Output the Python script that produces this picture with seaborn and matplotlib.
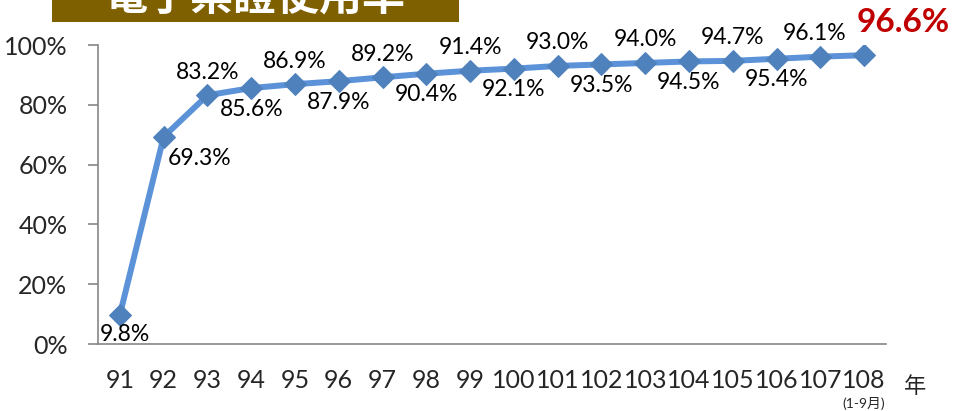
import numpy as np
import pandas as pd
import matplotlib
matplotlib.use("Agg")
import matplotlib.pyplot as plt
import seaborn as sns
from matplotlib.patches import Rectangle

years = ["91", "92", "93", "94", "95", "96", "97", "98", "99",
         "100", "101", "102", "103", "104", "105", "106", "107", "108"]
usage_rate = [9.8, 69.3, 83.2, 85.6, 86.9, 87.9, 89.2, 90.4, 91.4,
              92.1, 93.0, 93.5, 94.0, 94.5, 94.7, 95.4, 96.1, 96.6]
y_ticks = [0, 20, 40, 60, 80, 100]
title_text = "電子票證使用率"

# label offsets in pixels, positive y = above the point
label_offsets = [(5, -20), (36, -22), (0, 23), (0, -21), (0, 23), (0, -21),
                 (0, 23), (0, -21), (0, 23), (0, -21), (0, 23), (0, -21),
                 (0, 23), (0, -21), (0, 23), (0, -21), (-6, 23), (39, 33)]

sns.set_style("white")
plt.rcParams["font.family"] = ["Lato", "Noto Sans CJK TC", "DejaVu Sans"]

df = pd.DataFrame({"pos": np.arange(len(years)), "rate": usage_rate})

fig = plt.figure(figsize=(9.57, 4.11), dpi=100)
ax = fig.add_axes([0.1024, 0.163, 0.8234, 0.7275])

sns.lineplot(data=df, x="pos", y="rate", ax=ax, color="#5B92D8", linewidth=4.3,
             marker="D", markersize=11.5, markerfacecolor="#4F81BD",
             markeredgecolor="#4F81BD", sort=False)

ax.set_xlim(-0.5, len(years) - 0.5)
ax.set_ylim(0, 100)
ax.set_xlabel("")
ax.set_ylabel("")

ax.set_xticks(df["pos"])
ax.set_xticklabels(years, fontsize=18)
ax.set_xticks(np.arange(-0.5, len(years)), minor=True)
ax.tick_params(axis="x", which="major", length=0, pad=18)
ax.tick_params(axis="x", which="minor", length=6, width=1.2,
               color="#868686", direction="out")
ax.set_yticks(y_ticks)
ax.set_yticklabels([f"{t}%" for t in y_ticks], fontsize=18)
ax.tick_params(axis="y", length=7, width=1.2, color="#868686",
               direction="out", pad=15, left=True)

for side in ["top", "right"]:
    ax.spines[side].set_visible(False)
for side in ["left", "bottom"]:
    ax.spines[side].set_color("#868686")
    ax.spines[side].set_linewidth(1.2)

for i, (v, off) in enumerate(zip(usage_rate, label_offsets)):
    if i == len(usage_rate) - 1:
        ax.annotate(f"{v:.1f}%", (i, v), xytext=off, textcoords="offset pixels",
                    ha="center", va="center", fontsize=24, fontweight="bold",
                    color="#C00000", annotation_clip=False)
    else:
        ax.annotate(f"{v:.1f}%", (i, v), xytext=off,
                    textcoords="offset pixels", ha="center", va="center",
                    fontsize=16.5, color="black", annotation_clip=False)

fig.text(915 / 957, 1 - 387 / 411, "年", fontsize=16, ha="center", va="center")
fig.text(864 / 957, 1 - 403 / 411, "(1-9月)", fontsize=10, ha="center",
         va="center")

# title banner cut off at the top
fig.patches.append(Rectangle((52 / 957, 1 - 22 / 411), 407 / 957, 22 / 411,
                             transform=fig.transFigure, facecolor="#7F6000",
                             edgecolor="none"))
fig.text(255 / 957, 1 - 10 / 411, title_text, fontsize=31, color="white",
         fontweight="bold", ha="center", va="baseline")

fig.savefig("out.png", dpi=100)
